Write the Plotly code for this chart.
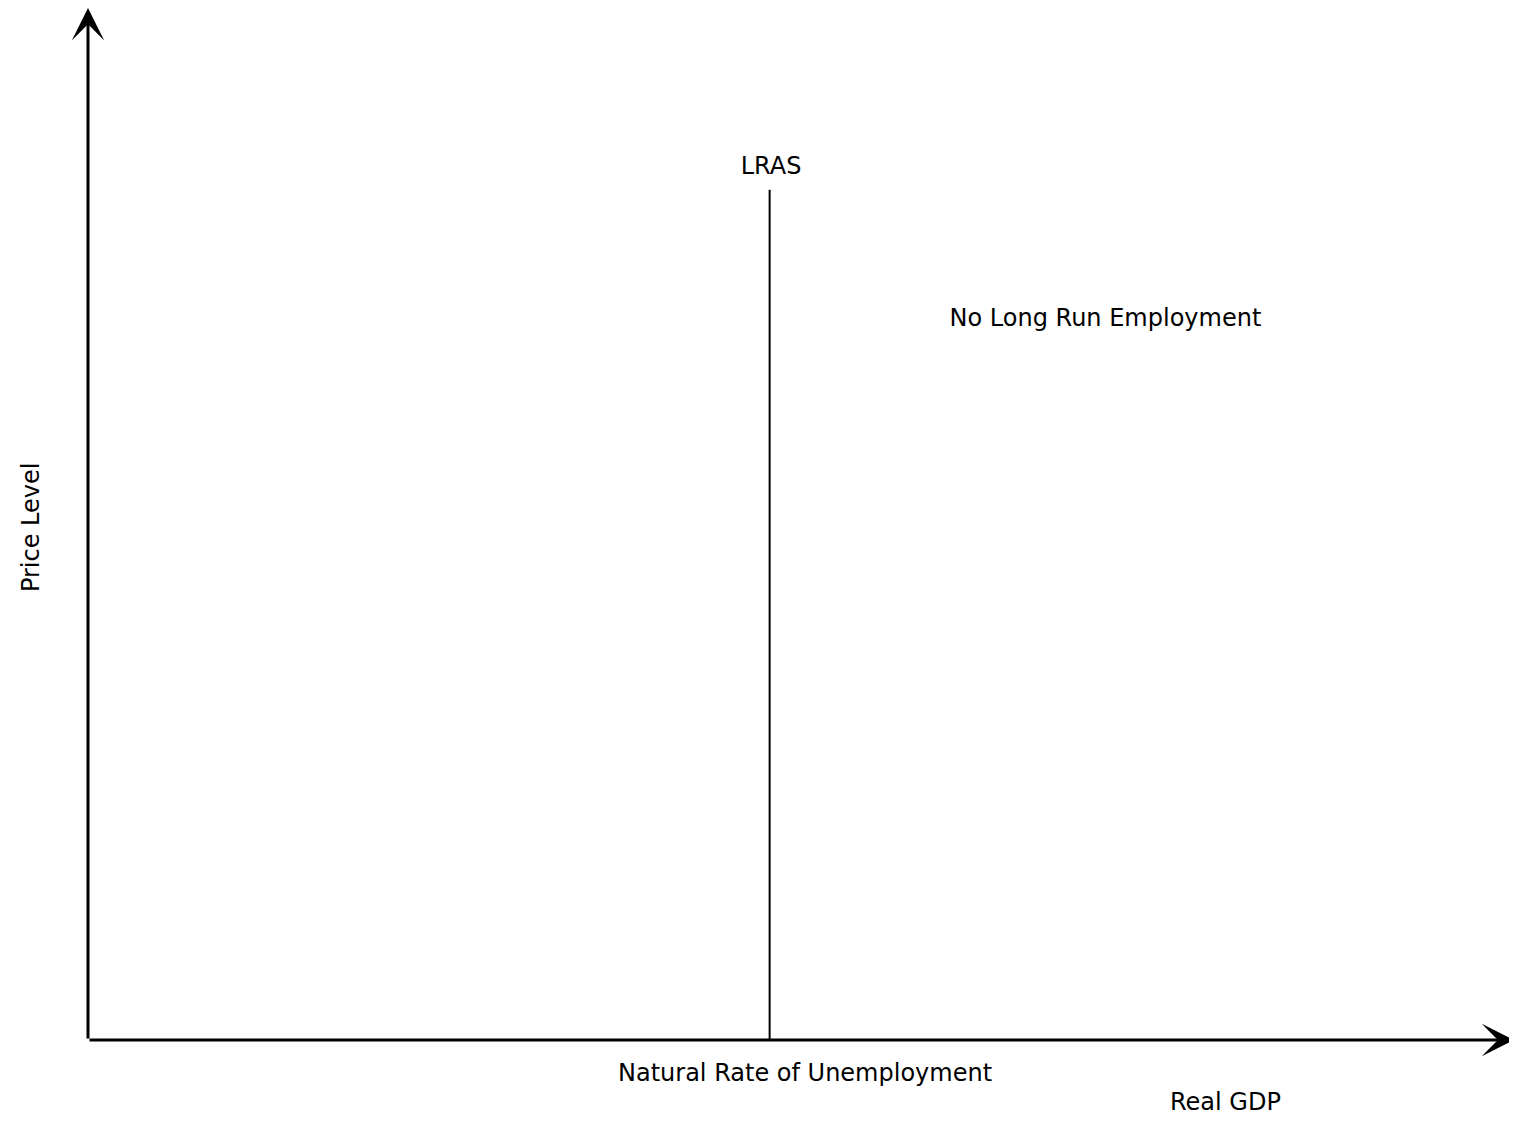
import plotly.graph_objects as go

# Axes run from 0 to 100 in both directions (abstract units)
axis_end_x = 99.8
axis_end_y = 100

# LRAS curve: vertical line at the natural level of output
lras_x = [47.7, 47.7]
lras_y = [0, 82.4]

# Text labels placed on the diagram
label_texts = ["LRAS", "No Long Run Employment"]
label_x = [47.8, 71.2]
label_y = [84.5, 69.8]

FONT = "DejaVu Sans"
SIZE = 24

fig = go.Figure()

fig.add_trace(go.Scatter(
    x=lras_x, y=lras_y, mode="lines",
    line=dict(color="black", width=2), hoverinfo="skip", showlegend=False,
))

fig.add_trace(go.Scatter(
    x=label_x, y=label_y, mode="text", text=label_texts,
    textfont=dict(family=FONT, size=SIZE, color="black"),
    hoverinfo="skip", showlegend=False,
))

# Axis arrows (notched heads)
for ex, ey in [(axis_end_x, 0), (0, axis_end_y)]:
    fig.add_annotation(
        x=ex, y=ey, ax=0, ay=0, xref="x", yref="y", axref="x", ayref="y",
        showarrow=True, arrowhead=3, arrowsize=1.8, arrowwidth=3,
        arrowcolor="black", text="",
    )

fig.update_layout(
    width=1509, height=1120,
    margin=dict(l=80, r=0, t=0, b=88),
    plot_bgcolor="white", paper_bgcolor="white",
    xaxis=dict(range=[0, 100], visible=False, fixedrange=True),
    yaxis=dict(range=[0, 100], visible=False, fixedrange=True),
    font=dict(family=FONT, size=SIZE, color="black"),
)

# Axis titles and the label under the LRAS line
fig.add_annotation(x=50.2, y=0, xref="x", yref="y", yshift=-33,
                   text="Natural Rate of Unemployment", showarrow=False)
fig.add_annotation(x=79.6, y=0, xref="x", yref="y", yshift=-62,
                   text="Real GDP", showarrow=False)
fig.add_annotation(x=0, y=49.7, xref="x", yref="y", xshift=-57,
                   text="Price Level", textangle=-90, showarrow=False)

fig.write_html("out.html")
